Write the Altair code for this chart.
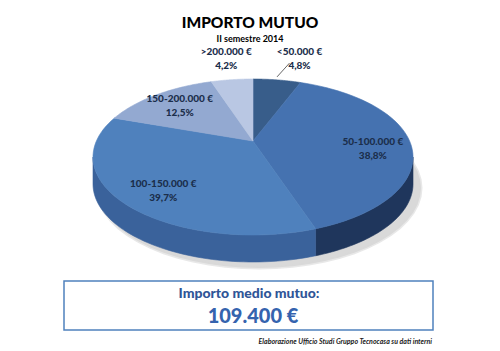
import altair as alt
import pandas as pd

# ---- data ----
categories = ["<50.000 €", "50-100.000 €", "100-150.000 €", "150-200.000 €", ">200.000 €"]
shares = [4.8, 38.8, 39.7, 12.5, 4.2]
share_labels = ["4,8%", "38,8%", "39,7%", "12,5%", "4,2%"]

title_text = "IMPORTO MUTUO"
subtitle_text = "II semestre 2014"
avg_label = "Importo medio mutuo:"
avg_value = "109.400 €"
source_text = "Elaborazione Ufficio Studi Gruppo Tecnocasa su dati interni"

# ---- style ----
top_colors = ["#385D8A", "#4572B0", "#4F81BD", "#93A9D1", "#B9C7E3"]
side_colors = ["#2A4670", "#1F365C", "#3A629B", "#6E86B3", "#8DA0C6"]
label_color = "#1B2E4B"
FONT = "Lato"

# ellipse geometry (pixel units of the 500x351 canvas)
CX, CY, A, B = 253, 157, 160, 78
VX, VY = 253, 141
DEPTH = 27
N = 60

W, H = 500, 351
xs = alt.Scale(domain=[0, W], nice=False, zero=False)
ys = alt.Scale(domain=[0, H], nice=False, zero=False, reverse=True)

df = pd.DataFrame({"cat": categories, "share": shares, "pct": share_labels,
                   "idx": list(range(len(categories)))})

base = alt.Chart(df).transform_window(
    cum="sum(share)", sort=[alt.SortField("idx")], frame=[None, 0]
).transform_calculate(
    t0="(datum.cum - datum.share) / 100 * 2 * PI",
    t1="datum.cum / 100 * 2 * PI",
)

fill_top = alt.Scale(domain=categories, range=top_colors)
fill_side = alt.Scale(domain=categories, range=side_colors)

# soft shadow under the pie
shadow = base.transform_filter("datum.idx == 0").transform_calculate(
    k=f"sequence(0, {N + 1})"
).transform_flatten(["k"]).transform_calculate(
    t=f"2 * PI * datum.k / {N}",
    px=f"{CX + 6} + {A + 2} * sin(datum.t)",
    py=f"{CY + DEPTH + 4} - {B + 2} * cos(datum.t)",
).mark_line(interpolate="linear-closed", fill="#BFBFBF", stroke="#D9D9D9",
            strokeWidth=3, fillOpacity=0.6, strokeOpacity=0.6).encode(
    x=alt.X("px:Q", scale=xs, axis=None),
    y=alt.Y("py:Q", scale=ys, axis=None),
    order=alt.Order("k:Q"),
)

# side walls (front half of ellipse only)
side = base.transform_calculate(
    s0="max(datum.t0, PI / 2)",
    s1="min(datum.t1, 3 * PI / 2)",
).transform_filter("datum.s1 > datum.s0").transform_calculate(
    k=f"sequence(0, {2 * N + 2})"
).transform_flatten(["k"]).transform_calculate(
    t=f"datum.k <= {N} ? datum.s0 + (datum.s1 - datum.s0) * datum.k / {N} : "
      f"datum.s1 - (datum.s1 - datum.s0) * (datum.k - {N} - 1) / {N}",
    px=f"{CX} + {A} * sin(datum.t)",
    py=f"{CY} - {B} * cos(datum.t) + (datum.k > {N} ? {DEPTH} : 0)",
).mark_line(interpolate="linear-closed", strokeWidth=0.6).encode(
    x=alt.X("px:Q", scale=xs, axis=None),
    y=alt.Y("py:Q", scale=ys, axis=None),
    order=alt.Order("k:Q"),
    fill=alt.Fill("cat:N", scale=fill_side, legend=None),
    stroke=alt.Stroke("cat:N", scale=fill_side, legend=None),
)

# top face sectors
top = base.transform_calculate(
    k=f"sequence(-1, {N + 1})"
).transform_flatten(["k"]).transform_calculate(
    t=f"datum.t0 + (datum.t1 - datum.t0) * max(datum.k, 0) / {N}",
    px=f"datum.k < 0 ? {VX} : {CX} + {A} * sin(datum.t)",
    py=f"datum.k < 0 ? {VY} : {CY} - {B} * cos(datum.t)",
).mark_line(interpolate="linear-closed", strokeWidth=0.6).encode(
    x=alt.X("px:Q", scale=xs, axis=None),
    y=alt.Y("py:Q", scale=ys, axis=None),
    order=alt.Order("k:Q"),
    fill=alt.Fill("cat:N", scale=fill_top, legend=None),
    stroke=alt.Stroke("cat:N", scale=fill_top, legend=None),
)

# labels
lab_base = base.transform_calculate(
    tm="(datum.t0 + datum.t1) / 2",
    out="datum.share < 6 ? 1 : 0",
    f="datum.out ? 1.27 : 0.75",
    ex=f"{CX} + {A} * sin(datum.tm)",
    ey=f"{CY} - {B} * cos(datum.tm)",
    lx=f"{CX} + {A} * datum.f * sin(datum.tm) + (datum.out && sin(datum.tm) > 0 ? 16 : 0)",
    ly=f"{CY} - {B} * datum.f * cos(datum.tm) - (datum.out ? 0 : 5)",
)
lab_cat = lab_base.mark_text(font=FONT, fontSize=10, fontWeight=900,
                             color=label_color, dy=-7).encode(
    x=alt.X("lx:Q", scale=xs, axis=None),
    y=alt.Y("ly:Q", scale=ys, axis=None),
    text="cat:N",
)
lab_pct = lab_base.mark_text(font=FONT, fontSize=10, fontWeight=900,
                             color=label_color, dy=7).encode(
    x=alt.X("lx:Q", scale=xs, axis=None),
    y=alt.Y("ly:Q", scale=ys, axis=None),
    text="pct:N",
)
leader = lab_base.transform_filter("datum.out && sin(datum.tm) > 0").transform_calculate(
    x2p="datum.lx - 10", y2p="datum.ly + 4", ey2="datum.ey - 3"
).mark_rule(color="#404040", strokeWidth=0.8).encode(
    x=alt.X("ex:Q", scale=xs, axis=None),
    y=alt.Y("ey2:Q", scale=ys, axis=None),
    x2="x2p:Q",
    y2="y2p:Q",
)


def text_layer(txt, x, y, size, weight="bold", color="#000000", align="center",
               style="normal"):
    return alt.Chart(pd.DataFrame({"t": [txt]})).mark_text(
        font=FONT, fontSize=size, fontWeight=weight, color=color, align=align,
        baseline="alphabetic", fontStyle=style,
    ).encode(x=alt.value(x), y=alt.value(y), text="t:N")


title = text_layer(title_text, 250, 28, 15.5, weight=900)
subtitle = text_layer(subtitle_text, 250, 42, 9)

box = alt.Chart(pd.DataFrame({"t": [avg_value]})).mark_rect(
    fill="white", stroke="#4F81BD", strokeWidth=1.5
).encode(x=alt.value(64), x2=alt.value(433), y=alt.value(281), y2=alt.value(330))

avg1 = text_layer(avg_label, 249, 298, 14, weight=900, color="#2F5597")
avg2 = text_layer(avg_value, 253, 323, 20, weight=900, color="#3563AE")
src = text_layer(source_text, 432, 344, 7, color="#222222", align="right",
                 style="italic")

chart = alt.layer(
    shadow, side, top, lab_cat, lab_pct, leader, box, title, subtitle, avg1, avg2, src
).resolve_scale(fill="independent", stroke="independent").properties(
    width=W, height=H, padding=0, autosize="none", background="white"
).configure_view(stroke=None)

chart.save("out.html", embed_options={"renderer": "svg", "actions": False})
